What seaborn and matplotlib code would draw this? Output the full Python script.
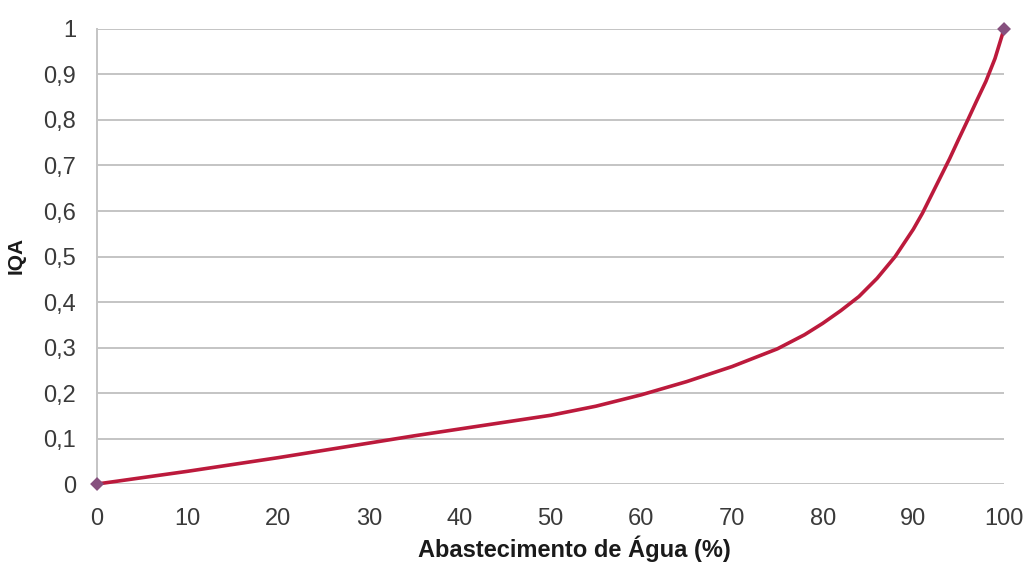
import pandas as pd
import matplotlib.pyplot as plt
import seaborn as sns

sns.set_theme(style='white')
plt.rcParams['font.family'] = ['Liberation Sans', 'DejaVu Sans']

# Curve (IQA vs water supply %)
abastecimento = [0, 5, 10, 15, 20, 25, 30, 35, 40, 45, 50, 55, 60, 65, 70,
                 75, 78, 80, 82, 84, 86, 88, 90, 91, 92, 93, 94, 95, 96,
                 97, 98, 99, 100]
iqa = [0.0, 0.014, 0.028, 0.043, 0.058, 0.074, 0.090, 0.106, 0.121, 0.136,
       0.151, 0.171, 0.196, 0.225, 0.258, 0.297, 0.328, 0.353, 0.381, 0.412,
       0.452, 0.50, 0.56, 0.595, 0.635, 0.675, 0.715, 0.758, 0.80, 0.843,
       0.885, 0.935, 1.0]
# only the two end points carry markers
end_x = [0, 100]
end_y = [0.0, 1.0]

x_ticks = list(range(0, 101, 10))
y_ticks = [0, 0.1, 0.2, 0.3, 0.4, 0.5, 0.6, 0.7, 0.8, 0.9, 1.0]
y_labels = ['0', '0,1', '0,2', '0,3', '0,4', '0,5', '0,6', '0,7', '0,8', '0,9', '1']

df = pd.DataFrame({'x': abastecimento, 'y': iqa})
ends = pd.DataFrame({'x': end_x, 'y': end_y})

fig = plt.figure(figsize=(10.28, 5.63), dpi=100)
ax = fig.add_axes([0.0944, 0.1403, 0.8823, 0.8082])

sns.lineplot(data=df, x='x', y='y', ax=ax, color='#bc1a3c', lw=2.6,
             clip_on=False, zorder=3)
sns.scatterplot(data=ends, x='x', y='y', ax=ax, marker='D', s=50,
                color='#86507e', edgecolor='none', clip_on=False, zorder=4)

ax.set_xlim(0, 100)
ax.set_ylim(0, 1)
ax.set_xticks(x_ticks)
ax.set_yticks(y_ticks)
ax.set_yticklabels(y_labels)
ax.tick_params(axis='both', length=0, labelsize=17, labelcolor='#3a3a3a')
ax.tick_params(axis='x', pad=17)
ax.tick_params(axis='y', pad=15)

ax.grid(axis='y', color='#c4c4c4', lw=1.4)
ax.set_axisbelow(True)
for side in ['top', 'right', 'bottom']:
    ax.spines[side].set_visible(False)
ax.spines['left'].set_color('#c4c4c4')
ax.spines['left'].set_linewidth(1.4)

ax.set_xlabel('Abastecimento de Água (%)', fontsize=17, fontweight='bold',
              color='#1a1a1a')
ax.xaxis.set_label_coords(0.526, -0.114)
ax.set_ylabel('IQA', fontsize=15, fontweight='bold', color='#1a1a1a')
ax.yaxis.set_label_coords(-0.079, 0.503)

plt.savefig('out.png', dpi=100)
